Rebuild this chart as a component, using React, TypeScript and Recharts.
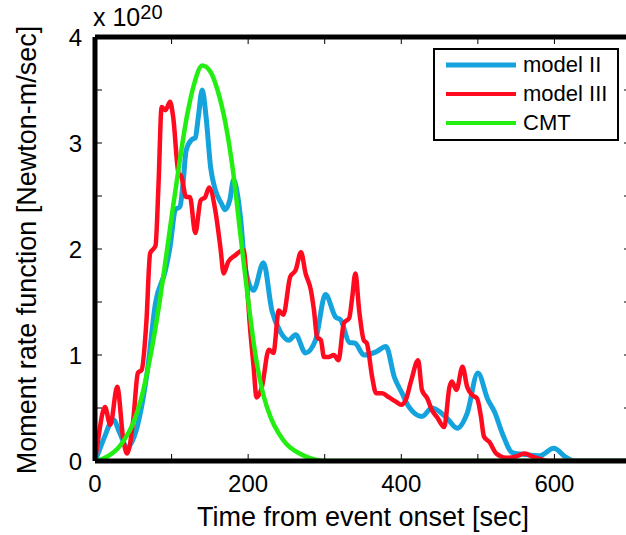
import { LineChart, Line, XAxis, YAxis, Legend, ReferenceLine } from "recharts";

// time [sec] and moment rate [x 1e20 N-m/sec]
const modelIITime = [
  0, 4, 12, 24, 32, 42, 55, 68, 79, 92, 98, 105, 111, 115, 119, 126, 131, 135, 140, 145, 151, 157, 165,
  170, 176, 181, 185, 190, 196, 207, 220, 231, 242, 253, 262, 275, 288, 301, 314, 321, 332, 340, 351, 367,
  380, 391, 401, 410, 427, 440, 459, 473, 486, 500, 513, 522, 532, 545, 563, 581, 599, 616, 626, 700,
];
const modelIIRate = [
  0, 0.07, 0.22, 0.39, 0.27, 0.13, 0.32, 0.83, 1.49, 1.8, 2.02, 2.37, 2.4, 2.62, 2.93, 3.03, 3.05, 3.25,
  3.5, 3.25, 2.77, 2.56, 2.43, 2.37, 2.46, 2.65, 2.56, 2.3, 1.83, 1.61, 1.87, 1.42, 1.22, 1.14, 1.19, 1.02,
  1.14, 1.57, 1.36, 1.33, 1.12, 1.11, 1.0, 1.03, 1.08, 0.79, 0.64, 0.51, 0.42, 0.5, 0.41, 0.31, 0.45, 0.83,
  0.58, 0.46, 0.26, 0.08, 0.06, 0.05, 0.12, 0.03, 0, 0,
];

const modelIIITime = [
  0, 4, 13, 20, 29, 37, 42, 50, 56, 61, 67, 72, 79, 83, 87, 92, 98, 102, 109, 113, 119, 124, 131, 138, 144,
  149, 157, 164, 168, 174, 183, 194, 198, 202, 207, 211, 218, 227, 233, 240, 246, 255, 262, 269, 275, 282,
  286, 290, 295, 299, 305, 312, 318, 325, 332, 336, 340, 345, 351, 355, 362, 367, 375, 384, 393, 400, 406,
  413, 422, 427, 434, 440, 447, 456, 463, 466, 472, 480, 486, 493, 499, 504, 508, 515, 524, 537, 549, 561,
  572, 581, 592, 700,
];
const modelIIIRate = [
  0, 0.2, 0.51, 0.34, 0.7, 0.2, 0.07, 0.39, 0.83, 0.86, 1.3, 1.96, 2.03, 2.62, 3.34, 3.31, 3.39, 3.25, 2.72,
  2.68, 2.49, 2.49, 2.15, 2.46, 2.49, 2.58, 2.37, 2.0, 1.77, 1.88, 1.94, 1.99, 1.71, 1.3, 0.9, 0.6, 0.7,
  1.05, 1.02, 1.42, 1.38, 1.74, 1.8, 1.97, 1.77, 1.61, 1.42, 1.17, 1.14, 0.98, 0.98, 1.0, 0.95, 1.3, 1.35,
  1.55, 1.77, 1.42, 1.14, 1.11, 0.79, 0.64, 0.64, 0.6, 0.56, 0.53, 0.58, 0.76, 0.95, 0.67, 0.59, 0.48,
  0.41, 0.32, 0.7, 0.75, 0.67, 0.89, 0.7, 0.62, 0.59, 0.42, 0.23, 0.18, 0.07, 0.03, 0.04, 0.07, 0.04,
  0.02, 0, 0,
];

const cmtTime = [
  0, 10, 20, 30, 40, 50, 60, 70, 80, 90, 100, 110, 120, 130, 140, 150, 160, 170, 180, 190, 200, 210, 220,
  230, 240, 250, 260, 270, 280, 290, 300, 700,
];
const cmtRate = [
  0, 0.02, 0.06, 0.12, 0.22, 0.36, 0.58, 0.9, 1.3, 1.78, 2.3, 2.8, 3.25, 3.57, 3.73, 3.68, 3.5, 3.2, 2.75,
  2.13, 1.52, 0.98, 0.62, 0.4, 0.26, 0.16, 0.1, 0.06, 0.03, 0.01, 0, 0,
];

const seriesNames = ["model II", "model III", "CMT"];
const xTicks = [0, 100, 200, 300, 400, 500, 600, 700];
const yTicks = [0, 0.5, 1, 1.5, 2, 2.5, 3, 3.5, 4];
const xLimits = [0, 700];
const yLimits = [0, 4];

const FONT = '"Liberation Sans", Arial, Helvetica, sans-serif';

const toPoints = (ts: number[], vs: number[]) => ts.map((t, i) => ({ t, v: vs[i] }));

const modelII = toPoints(modelIITime, modelIIRate);
const modelIII = toPoints(modelIIITime, modelIIIRate);
const cmt = toPoints(cmtTime, cmtRate);

const BottomTick = (props: any) => {
  const { x, y, payload } = props;
  return (
    <g>
      <line x1={x} y1={y} x2={x} y2={y - 7} stroke="#000" strokeWidth={1} />
      {payload.value % 200 === 0 && (
        <text x={x} y={y + 31} textAnchor="middle" fontFamily={FONT} fontSize={24} fill="#000">
          {payload.value}
        </text>
      )}
    </g>
  );
};

const TopTick = (props: any) => {
  const { x, y } = props;
  return <line x1={x} y1={y} x2={x} y2={y + 7} stroke="#000" strokeWidth={1} />;
};

const LeftTick = (props: any) => {
  const { x, y, payload } = props;
  return (
    <g>
      <line x1={x} y1={y} x2={x + 7} y2={y} stroke="#000" strokeWidth={1} />
      {Number.isInteger(payload.value) && (
        <text x={x - 13} y={y + 9} textAnchor="end" fontFamily={FONT} fontSize={24} fill="#000">
          {payload.value}
        </text>
      )}
    </g>
  );
};

const RightTick = (props: any) => {
  const { x, y } = props;
  return <line x1={x} y1={y} x2={x - 7} y2={y} stroke="#000" strokeWidth={1} />;
};

const XLabel = () => (
  <text x={363} y={526} textAnchor="middle" fontFamily={FONT} fontSize={27} fill="#000">
    Time from event onset [sec]
  </text>
);

const YLabel = () => (
  <text
    x={36}
    y={250}
    transform="rotate(-90 36 250)"
    textAnchor="middle"
    fontFamily={FONT}
    fontSize={27}
    fill="#000"
  >
    Moment rate function [Newton-m/sec]
  </text>
);

const LegendBox = (props: any) => {
  const items = [...(props.payload || [])].sort(
    (a: any, b: any) => seriesNames.indexOf(a.value) - seriesNames.indexOf(b.value)
  );
  return (
    <div
      style={{
        width: 186,
        height: 93,
        border: "2px solid #000",
        boxSizing: "border-box",
        background: "#fff",
        position: "relative",
        fontFamily: FONT,
        fontSize: 22,
        color: "#000",
      }}
    >
      {items.map((it: any, i: number) => (
        <div
          key={it.value}
          style={{ position: "absolute", left: 10, top: 1 + i * 29, height: 28, display: "flex", alignItems: "center" }}
        >
          <svg width={72} height={10}>
            <line x1={1} y1={5} x2={71} y2={5} stroke={it.color} strokeWidth={i === 0 ? 5 : 4} />
          </svg>
          <span style={{ marginLeft: 6, lineHeight: "28px", whiteSpace: "nowrap" }}>{it.value}</span>
        </div>
      ))}
    </div>
  );
};

export default function App() {
  return (
    <div
      style={{
        position: "absolute",
        left: 0,
        top: 0,
        width: 626,
        height: 535,
        overflow: "hidden",
        background: "#fff",
      }}
    >
      <LineChart width={660} height={535} margin={{ top: 0, right: 0, bottom: 0, left: 0 }}>
        <XAxis
          dataKey="t"
          type="number"
          domain={xLimits}
          ticks={xTicks}
          interval={0}
          height={74}
          axisLine={false}
          tickLine={false}
          tickSize={0}
          tickMargin={0}
          tick={(p: any) => <BottomTick {...p} />}
          label={<XLabel />}
          allowDataOverflow
        />
        <XAxis
          xAxisId="top"
          orientation="top"
          dataKey="t"
          type="number"
          domain={xLimits}
          ticks={xTicks}
          interval={0}
          height={37}
          axisLine={false}
          tickLine={false}
          tickSize={0}
          tickMargin={0}
          tick={(p: any) => <TopTick {...p} />}
          allowDataOverflow
        />
        <YAxis
          type="number"
          domain={yLimits}
          ticks={yTicks}
          interval={0}
          width={95}
          axisLine={false}
          tickLine={false}
          tickSize={0}
          tickMargin={0}
          tick={(p: any) => <LeftTick {...p} />}
          label={<YLabel />}
          allowDataOverflow
        />
        <YAxis
          yAxisId="right"
          orientation="right"
          type="number"
          domain={yLimits}
          ticks={yTicks}
          interval={0}
          width={29}
          axisLine={false}
          tickLine={false}
          tickSize={0}
          tickMargin={0}
          tick={(p: any) => <RightTick {...p} />}
          allowDataOverflow
        />
        <Legend
          layout="vertical"
          align="center"
          verticalAlign="middle"
          wrapperStyle={{ left: 433, top: 48, width: 186, height: 93 }}
          content={(p: any) => <LegendBox {...p} />}
        />
        <Line
          data={modelII}
          dataKey="v"
          name="model II"
          type="monotone"
          stroke="#14A3DC"
          strokeWidth={5}
          dot={false}
          activeDot={false}
          isAnimationActive={false}
        />
        <Line
          data={modelIII}
          dataKey="v"
          name="model III"
          type="monotone"
          stroke="#FF0A1E"
          strokeWidth={4.5}
          dot={false}
          activeDot={false}
          isAnimationActive={false}
        />
        <Line
          data={cmt}
          dataKey="v"
          name="CMT"
          type="monotone"
          stroke="#22EE11"
          strokeWidth={4.5}
          dot={false}
          activeDot={false}
          isAnimationActive={false}
        />
        {/* heavy axes box */}
        <ReferenceLine x={xLimits[0]} stroke="#000" strokeWidth={5} ifOverflow="visible" />
        <ReferenceLine x={xLimits[1]} stroke="#000" strokeWidth={5} ifOverflow="visible" />
        <ReferenceLine y={yLimits[0]} stroke="#000" strokeWidth={5} ifOverflow="visible" />
        <ReferenceLine y={yLimits[1]} stroke="#000" strokeWidth={5} ifOverflow="visible" />
      </LineChart>
      <svg width={200} height={40} style={{ position: "absolute", left: 0, top: 0 }}>
        <text x={93} y={26} fontFamily={FONT} fontSize={25} fill="#000">
          x 10
          <tspan fontSize={20} dy={-7}>
            20
          </tspan>
        </text>
      </svg>
    </div>
  );
}
